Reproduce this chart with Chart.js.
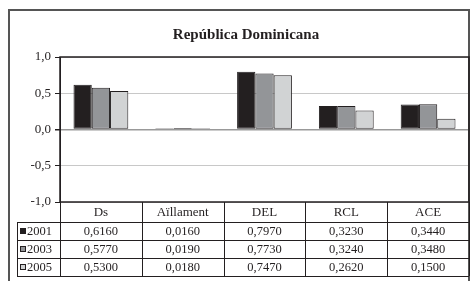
<!DOCTYPE html>
<html>
<head>
<meta charset="utf-8">
<script src="https://cdn.jsdelivr.net/npm/chart.js@4"></script>
<style>
  html, body { margin: 0; padding: 0; background: #fff; }
  #wrap { width: 472px; height: 281px; position: relative; }
</style>
</head>
<body>
<div id="wrap"><canvas id="chartRD"></canvas></div>
<script>
// data
const title = 'República Dominicana';
const categories = ['Ds', 'Aïllament', 'DEL', 'RCL', 'ACE'];
const years = ['2001', '2003', '2005'];
const values2001 = [0.6160, 0.0160, 0.7970, 0.3230, 0.3440];
const values2003 = [0.5770, 0.0190, 0.7730, 0.3240, 0.3480];
const values2005 = [0.5300, 0.0180, 0.7470, 0.2620, 0.1500];
const yTicks = [-1, -0.5, 0, 0.5, 1];

const colors = ['#231f20', '#939598', '#d1d3d4'];
const ink = '#231f20';
const serif = '"Liberation Serif", "DejaVu Serif", serif';

function fmt(v, digits) {
  return v.toFixed(digits).replace('.', ',');
}

/**
 * frameAndTable: Rahmen, Titel und Datentabelle unter dem Diagramm
 */
const frameAndTable = {
  id: 'frameAndTable',
  afterDraw(chart) {
    const ctx = chart.ctx;
    const area = chart.chartArea;
    const xs = chart.scales.x;
    const n = categories.length;
    const colW = (area.right - area.left) / n;
    const rows = [values2001, values2003, values2005];

    ctx.save();

    // outer frame
    ctx.strokeStyle = '#555';
    ctx.lineWidth = 2;
    ctx.strokeRect(9, 10, 460, 290);

    // title
    ctx.fillStyle = ink;
    ctx.font = 'bold 15px ' + serif;
    ctx.textAlign = 'center';
    ctx.textBaseline = 'middle';
    ctx.fillText(title, 246, 35);

    // plot border
    ctx.strokeStyle = ink;
    ctx.lineWidth = 1.5;
    ctx.strokeRect(area.left, area.top, area.right - area.left, area.bottom - area.top);

    // table geometry
    const headTop = area.bottom;
    const headH = 20;
    const rowH = 18;
    const tableBottom = headTop + headH + rowH * rows.length;
    const legendLeft = 17;

    ctx.lineWidth = 1;
    ctx.strokeStyle = ink;
    ctx.beginPath();
    // vertical lines of the category columns
    for (let i = 0; i <= n; i++) {
      const x = Math.round(area.left + i * colW) + 0.5;
      ctx.moveTo(x, headTop);
      ctx.lineTo(x, tableBottom);
    }
    // legend column left edge
    ctx.moveTo(legendLeft + 0.5, headTop + headH);
    ctx.lineTo(legendLeft + 0.5, tableBottom);
    // horizontal lines
    for (let r = 0; r <= rows.length; r++) {
      const y = Math.round(headTop + headH + r * rowH) + 0.5;
      ctx.moveTo(legendLeft, y);
      ctx.lineTo(area.right, y);
    }
    ctx.stroke();

    // header texts
    ctx.font = '13px ' + serif;
    ctx.fillStyle = ink;
    ctx.textAlign = 'center';
    categories.forEach((c, i) => {
      ctx.fillText(c, xs.getPixelForValue(i), headTop + headH / 2 + 1);
    });

    // rows
    ctx.font = '12.5px ' + serif;
    rows.forEach((row, r) => {
      const yMid = headTop + headH + r * rowH + rowH / 2 + 1;
      // legend marker
      ctx.fillStyle = colors[r];
      ctx.fillRect(legendLeft + 3, yMid - 4, 6, 6);
      ctx.strokeStyle = ink;
      ctx.strokeRect(legendLeft + 3.5, yMid - 3.5, 5, 5);
      ctx.fillStyle = ink;
      ctx.textAlign = 'left';
      ctx.fillText(years[r], legendLeft + 10, yMid);
      ctx.textAlign = 'center';
      row.forEach((v, i) => {
        ctx.fillText(fmt(v, 4), xs.getPixelForValue(i), yMid);
      });
    });

    ctx.restore();
  }
};

function initChart() {
  const ctx = document.getElementById('chartRD').getContext('2d');
  return new Chart(ctx, {
    type: 'bar',
    data: {
      labels: categories,
      datasets: [
        { label: years[0], data: values2001, backgroundColor: colors[0] },
        { label: years[1], data: values2003, backgroundColor: colors[1] },
        { label: years[2], data: values2005, backgroundColor: colors[2] }
      ].map(d => Object.assign(d, { borderColor: ink, borderWidth: 1, borderSkipped: false }))
    },
    options: {
      responsive: false,
      animation: false,
      devicePixelRatio: 1,
      layout: { padding: { left: 0, right: 3, top: 57, bottom: 79 } },
      datasets: { bar: { categoryPercentage: 0.67, barPercentage: 1 } },
      plugins: {
        legend: { display: false },
        title: { display: false },
        tooltip: { enabled: false }
      },
      scales: {
        x: { display: false },
        y: {
          min: yTicks[0],
          max: yTicks[yTicks.length - 1],
          afterBuildTicks: s => { s.ticks = yTicks.map(v => ({ value: v })); },
          afterFit: s => { s.width = 60; },
          ticks: {
            callback: v => fmt(v, 1),
            color: ink,
            font: { family: serif, size: 13 },
            padding: 4
          },
          grid: {
            color: c => (c.tick.value === 0 ? '#999' : '#c8c8c8'),
            lineWidth: c => (c.tick.value === 0 ? 1.5 : 1),
            tickColor: ink,
            tickLength: 5
          },
          border: { display: true, color: ink }
        }
      }
    },
    plugins: [frameAndTable]
  });
}

const canvas = document.getElementById('chartRD');
canvas.width = 472;
canvas.height = 281;
const myChart = initChart();
</script>
</body>
</html>
